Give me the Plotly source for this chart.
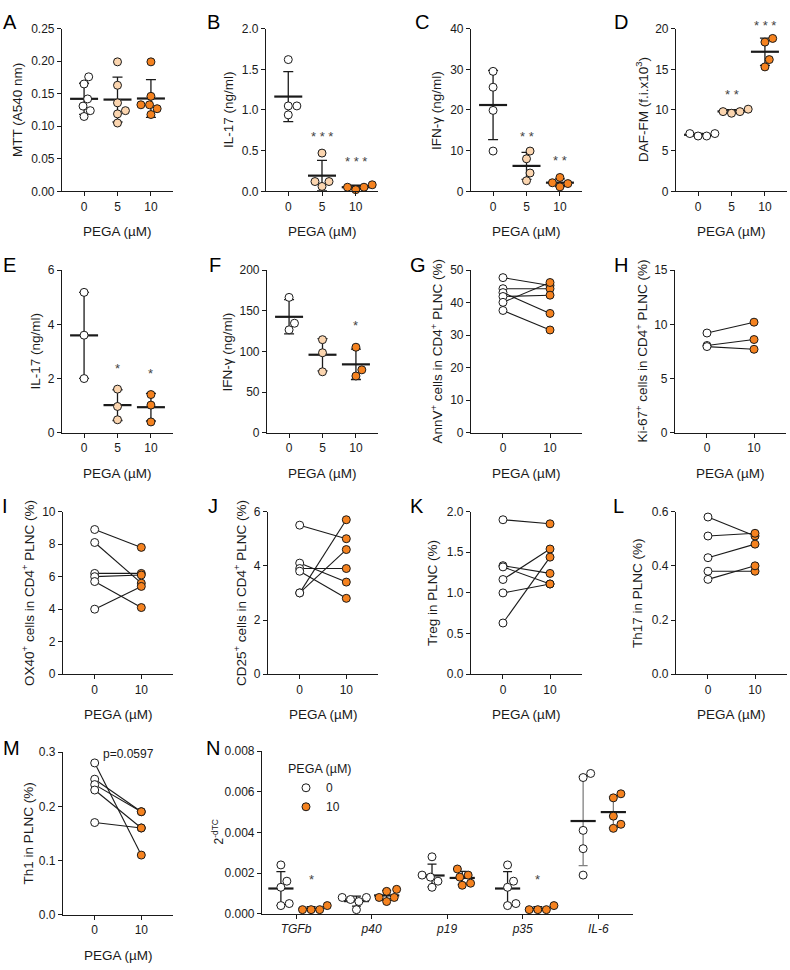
import numpy as np
import plotly.graph_objects as go

W, H = 790, 970
FONT = "Liberation Sans, Arial, Helvetica, sans-serif"
INK = "#1a1a1a"
GREY = "#808080"
C0, C5, C10 = "#ffffff", "#FBD5AF", "#F5821F"

# ---------------- data ----------------
dose3 = ["0", "5", "10"]
dose2 = ["0", "10"]
genes = ["TGFb", "p40", "p19", "p35", "IL-6"]

mtt = [[0.176, 0.165, 0.142, 0.131, 0.124, 0.115],
       [0.199, 0.163, 0.136, 0.124, 0.119, 0.105],
       [0.199, 0.146, 0.133, 0.133, 0.127, 0.118]]
il17_b = [[1.62, 1.05, 1.05, 0.94],
          [0.47, 0.12, 0.12, 0.06],
          [0.08, 0.05, 0.05, 0.02]]
ifng_c = [[29.5, 25.6, 19.9, 9.9],
          [9.9, 8.0, 4.5, 2.6],
          [3.4, 2.1, 1.9, 1.1]]
daf_d = [[7.1, 7.1, 6.8, 6.8],
         [10.1, 9.8, 9.8, 9.6],
         [18.8, 18.35, 16.2, 15.3]]
il17_e = [[5.18, 3.6, 2.0],
          [1.61, 0.97, 0.48],
          [1.41, 1.02, 0.40]]
ifng_f = [[166.5, 134.7, 126.6],
          [114.5, 98.4, 75.0],
          [105.2, 77.4, 69.8]]

annv_0 = [47.7, 44.3, 43.1, 41.9, 40.1, 37.6]
annv_10 = [45.3, 44.3, 36.7, 42.3, 46.2, 31.6]
ki67_0 = [9.2, 8.05, 7.95]
ki67_10 = [10.2, 8.6, 7.7]
ox40_0 = [8.9, 8.1, 6.2, 6.0, 5.7, 4.0]
ox40_10 = [7.8, 5.6, 6.2, 6.1, 4.1, 5.4]
cd25_0 = [5.5, 4.1, 3.9, 3.8, 3.0, 3.0]
cd25_10 = [5.0, 3.4, 3.9, 2.8, 5.7, 4.6]
treg_0 = [1.9, 1.335, 1.32, 1.165, 1.0, 0.63]
treg_10 = [1.85, 1.24, 1.11, 1.54, 1.11, 1.44]
th17_0 = [0.58, 0.51, 0.43, 0.38, 0.35]
th17_10 = [0.51, 0.52, 0.48, 0.38, 0.40]
th1_0 = [0.28, 0.25, 0.24, 0.23, 0.17]
th1_10 = [0.11, 0.19, 0.19, 0.16, 0.16]

expr_0 = [[0.0024, 0.0016, 0.0013, 0.0004, 0.0005],
          [0.0007, 0.0008, 0.0008, 0.0002, 0.0006],
          [0.0028, 0.0019, 0.0018, 0.0016, 0.0013],
          [0.0024, 0.0016, 0.0013, 0.0004, 0.0005],
          [0.0069, 0.0067, 0.0041, 0.0032, 0.0019]]
expr_10 = [[0.0004, 0.0002, 0.0002, 0.0002],
           [0.0012, 0.0011, 0.0008, 0.0008, 0.0006],
           [0.0022, 0.0019, 0.0018, 0.0015, 0.0014],
           [0.0004, 0.0002, 0.0002, 0.0002],
           [0.0059, 0.0057, 0.0048, 0.0044, 0.0042]]

# ---------------- helpers ----------------
fig = go.Figure()
layout = dict(width=W, height=H, margin=dict(l=0, r=0, t=0, b=0),
              paper_bgcolor="white", plot_bgcolor="white",
              font=dict(family=FONT, color=INK), showlegend=True)
annotations = []
YMAX = {}


def swarm(vals, ppu_y, d):
    vals = np.asarray(vals, dtype=float)
    order = np.argsort(vals, kind="stable")
    placed = []
    xs = np.zeros(len(vals))
    for i in order:
        y = vals[i] * ppu_y
        iv = []
        for yy, xx in placed:
            dy = abs(y - yy)
            if dy < d:
                w = np.sqrt(d * d - dy * dy)
                iv.append((xx - w, xx + w))
        cands = [0.0] + [a for a, b in iv] + [b for a, b in iv]
        cands.sort(key=lambda c: (round(abs(c), 6), -c))
        for c in cands:
            if all(not (a + 1e-6 < c < b - 1e-6) for a, b in iv):
                xs[i] = c
                break
        placed.append((y, xs[i]))
    return xs


def ax_names(i):
    return ("x" if i == 1 else f"x{i}", "y" if i == 1 else f"y{i}")


def add_axes(i, box, xr, tickvals, ticktext, yr, dtick, fmt, tfont=12):
    x0, y0, x1, y1 = box
    xn, yn = ax_names(i)
    YMAX[i] = yr[1]
    common = dict(showline=True, linecolor=INK, linewidth=1.2, ticks="outside",
                  ticklen=4, tickwidth=1.1, tickcolor=INK, showgrid=False,
                  zeroline=False, fixedrange=True)
    layout["xaxis" if i == 1 else f"xaxis{i}"] = dict(
        domain=[x0 / W, x1 / W], range=xr, tickmode="array", tickvals=tickvals,
        ticktext=ticktext, anchor=yn, tickfont=dict(size=tfont), **common)
    layout["yaxis" if i == 1 else f"yaxis{i}"] = dict(
        domain=[1 - y1 / H, 1 - y0 / H], range=yr, dtick=dtick, tick0=0,
        tickformat=fmt, anchor=xn, tickfont=dict(size=12), **common)


def titles(box, ytitle, toff, letter, lpos, xtitle="PEGA (µM)", yfont=13.5):
    x0, y0, x1, y1 = box
    annotations.append(dict(text=ytitle, x=(x0 - toff) / W, y=1 - (y0 + y1) / 2 / H,
                            xref="paper", yref="paper", textangle=-90, showarrow=False,
                            xanchor="center", yanchor="middle", font=dict(size=yfont)))
    if xtitle:
        annotations.append(dict(text=xtitle, x=(x0 + x1) / 2 / W, y=1 - (y1 + 41) / H,
                                xref="paper", yref="paper", showarrow=False,
                                xanchor="center", yanchor="middle", font=dict(size=13.5)))
    annotations.append(dict(text=letter, x=lpos[0] / W, y=1 - lpos[1] / H, xref="paper",
                            yref="paper", showarrow=False, xanchor="center",
                            yanchor="middle", font=dict(size=20, color="black")))


def stars(i, x, y, txt):
    # y given in data units; placed via the axis domain so it may sit above the top
    xn, yn = ax_names(i)
    annotations.append(dict(text=txt, x=x, y=y / YMAX[i], xref=xn, yref=f"{yn} domain",
                            showarrow=False, xanchor="center", yanchor="middle",
                            font=dict(size=13, color="#444444")))


def dot_group(i, box, xr, yr, center, vals, color, errc=INK, name=None, legend=False,
              meanw=20, capw=5):
    x0, y0, x1, y1 = box
    xn, yn = ax_names(i)
    ppu_y = (y1 - y0) / (yr[1] - yr[0])
    ppu_x = (x1 - x0) / (xr[1] - xr[0])
    v = np.asarray(vals, dtype=float)
    m, sd = v.mean(), v.std(ddof=1)
    fig.add_trace(go.Scatter(
        x=[center], y=[m], mode="markers", xaxis=xn, yaxis=yn, showlegend=False,
        marker=dict(symbol="line-ew", size=meanw, color=INK, line=dict(width=2.2, color=INK)),
        error_y=dict(type="data", array=[sd], visible=True, color=errc, thickness=1.3, width=capw),
        cliponaxis=False, hoverinfo="skip"))
    off = swarm(v, ppu_y, 8.6) / ppu_x
    fig.add_trace(go.Scatter(
        x=center + off, y=v, mode="markers", xaxis=xn, yaxis=yn, name=name,
        showlegend=legend, legendgroup=name,
        marker=dict(size=8, color=color, line=dict(width=1, color=INK)),
        cliponaxis=False, hoverinfo="skip"))


def dot_panel(i, box, groups, yr, dtick, fmt):
    xr = [-0.66, 2.66]
    add_axes(i, box, xr, [0, 1, 2], dose3, yr, dtick, fmt)
    for g, (vals, col) in enumerate(zip(groups, [C0, C5, C10])):
        dot_group(i, box, xr, yr, g, vals, col)


def pair_panel(i, box, v0, v10, yr, dtick, fmt):
    xr = [-0.68, 1.68]
    add_axes(i, box, xr, [0, 1], dose2, yr, dtick, fmt)
    xn, yn = ax_names(i)
    xs, ys = [], []
    for a, b in zip(v0, v10):
        xs += [0, 1, None]
        ys += [a, b, None]
    fig.add_trace(go.Scatter(x=xs, y=ys, mode="lines", xaxis=xn, yaxis=yn,
                             line=dict(color=INK, width=1.1), showlegend=False,
                             hoverinfo="skip", cliponaxis=False))
    for xv, vals, col in [(0, v0, C0), (1, v10, C10)]:
        fig.add_trace(go.Scatter(x=[xv] * len(vals), y=vals, mode="markers",
                                 xaxis=xn, yaxis=yn, showlegend=False,
                                 marker=dict(size=8, color=col, line=dict(width=1, color=INK)),
                                 hoverinfo="skip", cliponaxis=False))


# ---------------- panels ----------------
bA = (62, 22, 173, 187); bB = (266, 22, 378, 187); bC = (471, 22, 582, 187); bD = (676, 22, 787, 187)
bE = (62, 267, 173, 432); bF = (267, 267, 378, 432); bG = (471, 267, 582, 432); bH = (675, 267, 786, 432)
bI = (63, 512, 173, 677); bJ = (268, 512, 378, 677); bK = (471, 512, 582, 677); bL = (676, 512, 787, 677)
bM = (63, 756, 173, 921); bN = (262, 755, 633, 920)

dot_panel(1, bA, mtt, [0, 0.25], 0.05, ".2f")
titles(bA, "MTT (A540 nm)", 44, "A", (10, 15))
dot_panel(2, bB, il17_b, [0, 2.0], 0.5, ".1f")
titles(bB, "IL-17 (ng/ml)", 37, "B", (213, 15))
stars(2, 1, 0.67, "* * *"); stars(2, 2, 0.365, "* * *")
dot_panel(3, bC, ifng_c, [0, 40], 10, "d")
titles(bC, "IFN-γ (ng/ml)", 34, "C", (422, 15))
stars(3, 1, 13.6, "* *"); stars(3, 2, 7.5, "* *")
dot_panel(4, bD, daf_d, [0, 20], 5, "d")
titles(bD, "DAF-FM (f.i.x10<sup>3</sup>)", 34, "D", (621, 15))
stars(4, 1, 11.9, "* *"); stars(4, 2, 20.4, "* * *")

dot_panel(5, bE, il17_e, [0, 6], 2, "d")
titles(bE, "IL-17 (ng/ml)", 27, "E", (9, 262))
stars(5, 1, 2.36, "*"); stars(5, 2, 2.18, "*")
dot_panel(6, bF, ifng_f, [0, 200], 50, "d")
titles(bF, "IFN-γ (ng/ml)", 40, "F", (215, 262))
stars(6, 2, 132, "*")
pair_panel(7, bG, annv_0, annv_10, [0, 50], 10, "d")
titles(bG, "AnnV<sup>+</sup> cells in CD4<sup>+</sup> PLNC (%)", 34, "G", (418, 262))
pair_panel(8, bH, ki67_0, ki67_10, [0, 15], 5, "d")
titles(bH, "Ki-67<sup>+</sup> cells in CD4<sup>+</sup> PLNC (%)", 33, "H", (621, 262))

pair_panel(9, bI, ox40_0, ox40_10, [0, 10], 2, "d")
titles(bI, "OX40<sup>+</sup> cells in CD4<sup>+</sup> PLNC (%)", 35, "I", (5, 506))
pair_panel(10, bJ, cd25_0, cd25_10, [0, 6], 2, "d")
titles(bJ, "CD25<sup>+</sup> cells in CD4<sup>+</sup> PLNC (%)", 28, "J", (213, 506))
pair_panel(11, bK, treg_0, treg_10, [0, 2.0], 0.5, ".1f")
titles(bK, "Treg in PLNC (%)", 38, "K", (417, 506))
pair_panel(12, bL, th17_0, th17_10, [0, 0.6], 0.2, ".1f")
titles(bL, "Th17 in PLNC (%)", 38, "L", (618, 506))

pair_panel(13, bM, th1_0, th1_10, [0, 0.3], 0.1, ".1f")
titles(bM, "Th1 in PLNC (%)", 35, "M", (11, 752))
annotations.append(dict(text="p=0.0597", x=128 / W, y=1 - 758 / H, xref="paper", yref="paper",
                        showarrow=False, xanchor="center", yanchor="middle", font=dict(size=12)))

# panel N
xrN = [-0.45, 4.46]
yrN = [0, 0.008]
add_axes(14, bN, xrN, list(range(len(genes))), [f"<i>{g}</i>" for g in genes], yrN, 0.002, ".3f")
for k, g in enumerate(genes):
    errc = GREY if g == "IL-6" else INK
    dot_group(14, bN, xrN, yrN, k - 0.2, expr_0[k], C0, errc=errc, name="0",
              legend=(k == 0), meanw=18, capw=4.5)
    dot_group(14, bN, xrN, yrN, k + 0.2, expr_10[k], C10, errc=errc, name="10",
              legend=(k == 0), meanw=18, capw=4.5)
titles(bN, "2<sup>-dTC</sup>", 44, "N", (213, 752), xtitle=None, yfont=12)
stars(14, 0.2, 0.00167, "*"); stars(14, 3.2, 0.00167, "*")

layout["legend"] = dict(x=286 / W, y=1 - 761 / H, xanchor="left", yanchor="top",
                        title=dict(text="PEGA (µM)", font=dict(size=12.5)),
                        font=dict(size=12), bgcolor="rgba(0,0,0,0)",
                        tracegroupgap=0, itemclick=False, itemdoubleclick=False)
layout["annotations"] = annotations
fig.update_layout(**layout)
fig.write_html("out.html", config={"displayModeBar": False},
               post_script="document.body.style.margin='0px';")
